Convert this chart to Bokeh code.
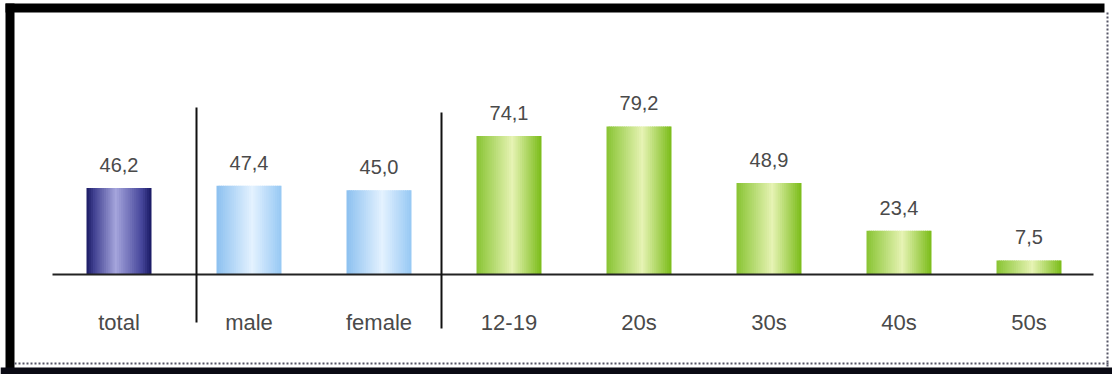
from bokeh.plotting import figure
from bokeh.models import Range1d, ColumnDataSource
from bokeh.core.properties import value
from bokeh.embed import file_html
from bokeh.resources import INLINE

# ---- data ----
categories = ["total", "male", "female", "12-19", "20s", "30s", "40s", "50s"]
values = [46.2, 47.4, 45.0, 74.1, 79.2, 48.9, 23.4, 7.5]
value_labels = ["46,2", "47,4", "45,0", "74,1", "79,2", "48,9", "23,4", "7,5"]
groups = ["total", "gender", "gender", "age", "age", "age", "age", "age"]

# ---- layout constants (pixels of the 1112x374 window) ----
W, H = 1112, 374
X0_PX, STEP_PX = 118.5, 130.0     # centre of first bar, spacing
BASE_PX, UNIT_PX = 274.0, 1.87    # baseline row, pixels per unit

def xd(px):
    return (px - X0_PX) / STEP_PX

def yd(py):
    return (BASE_PX - py) / UNIT_PX

p = figure(width=W, height=H, output_backend="svg", toolbar_location=None,
           x_range=Range1d(xd(0), xd(W)), y_range=Range1d(yd(H), yd(0)),
           min_border=0, outline_line_color=None)
p.axis.visible = False
p.grid.visible = False
p.background_fill_color = "white"
p.border_fill_color = "white"

# gradient palettes (stops t, colour) per group
palettes = {
    "total": [(0.0, (26, 26, 100)), (0.12, (66, 66, 146)), (0.45, (165, 165, 220)),
              (0.85, (70, 70, 155)), (1.0, (24, 24, 98))],
    "gender": [(0.0, (140, 192, 240)), (0.55, (228, 242, 255)), (1.0, (150, 200, 244))],
    "age": [(0.0, (136, 196, 50)), (0.55, (230, 243, 180)), (1.0, (122, 188, 24))],
}

def interp(stops, t):
    for (t0, c0), (t1, c1) in zip(stops, stops[1:]):
        if t0 <= t <= t1:
            f = (t - t0) / (t1 - t0) if t1 > t0 else 0
            return "#%02x%02x%02x" % tuple(int(round(a + (b - a) * f)) for a, b in zip(c0, c1))
    c = stops[-1][1]
    return "#%02x%02x%02x" % c

BAR_W = 0.5
N = 30
dw = BAR_W / N
L, R, T, B, C = [], [], [], [], []
for i, (v, g) in enumerate(zip(values, groups)):
    left = i - BAR_W / 2
    right = i + BAR_W / 2
    for k in range(N):
        l = left + k * dw
        r = min(left + (k + 1.5) * dw, right)
        L.append(l); R.append(r); T.append(v); B.append(0)
        C.append(interp(palettes[g], (k + 0.5) / N))
p.quad(left="l", right="r", top="t", bottom="b", fill_color="c", line_color=None,
       source=ColumnDataSource(dict(l=L, r=R, t=T, b=B, c=C)))

# baseline
p.line(x=[xd(52), xd(1093)], y=[0, 0], line_color="#222222", line_width=2)

# group separators
p.line(x=[xd(196), xd(196)], y=[yd(107), yd(322)], line_color="#111111", line_width=2)
p.line(x=[xd(441), xd(441)], y=[yd(112), yd(328)], line_color="#111111", line_width=2)

xs = list(range(len(categories)))
# value labels
p.text(x=xs, y=[v + 23 / UNIT_PX for v in values], text=value_labels,
       text_align="center", text_baseline="alphabetic",
       text_font=value("Liberation Sans"), text_font_size="20px", text_color="#4a4a4a")
# category labels
p.text(x=xs, y=[yd(322)] * len(xs), text=categories,
       text_align="center", text_baseline="middle",
       text_font=value("Liberation Sans"), text_font_size="22px", text_color="#4a4a4a")

# frame decoration
p.quad(left=[xd(5), xd(5)], right=[xd(1104), xd(14)], top=[yd(3), yd(3)],
       bottom=[yd(12), yd(374)], fill_color="black", line_color=None)
p.quad(left=[xd(0)], right=[xd(1112)], top=[yd(367)], bottom=[yd(374)],
       fill_color="#0a0a14", line_color=None)
p.line(x=[xd(14), xd(1108)], y=[yd(363), yd(363)], line_color="#555566",
       line_width=2, line_dash="2 2")
p.line(x=[xd(1107), xd(1107)], y=[yd(12), yd(367)], line_color="#555566",
       line_width=2, line_dash="2 2")

open("out.html", "w").write(file_html(p, INLINE))
